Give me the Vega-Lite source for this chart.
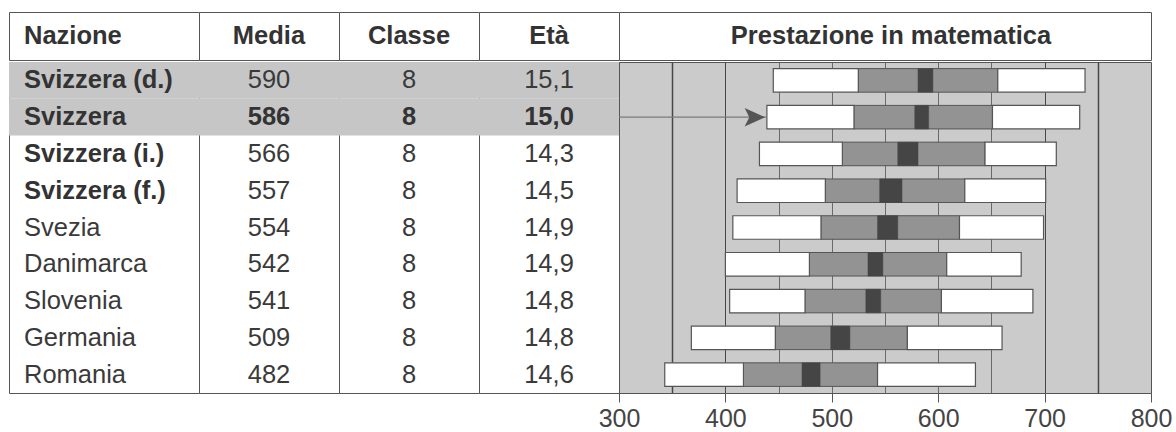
{
  "$schema": "https://vega.github.io/schema/vega-lite/v6.json",
  "background": "white",
  "padding": {"left": 8, "top": 11, "right": 5, "bottom": 5},
  "datasets": {
    "rows": [
      {"Nazione": "Svizzera (d.)", "Media": 590, "Classe": 8, "Eta": 15.1, "p5": 445, "p25": 525, "ciLo": 581, "ciHi": 595, "p75": 656, "p95": 738},
      {"Nazione": "Svizzera", "Media": 586, "Classe": 8, "Eta": 15.0, "p5": 439, "p25": 521, "ciLo": 578, "ciHi": 591, "p75": 651, "p95": 733},
      {"Nazione": "Svizzera (i.)", "Media": 566, "Classe": 8, "Eta": 14.3, "p5": 432, "p25": 510, "ciLo": 562, "ciHi": 581, "p75": 644, "p95": 711},
      {"Nazione": "Svizzera (f.)", "Media": 557, "Classe": 8, "Eta": 14.5, "p5": 411, "p25": 494, "ciLo": 545, "ciHi": 566, "p75": 625, "p95": 701},
      {"Nazione": "Svezia", "Media": 554, "Classe": 8, "Eta": 14.9, "p5": 407, "p25": 490, "ciLo": 543, "ciHi": 562, "p75": 620, "p95": 699},
      {"Nazione": "Danimarca", "Media": 542, "Classe": 8, "Eta": 14.9, "p5": 400, "p25": 479, "ciLo": 534, "ciHi": 548, "p75": 608, "p95": 678},
      {"Nazione": "Slovenia", "Media": 541, "Classe": 8, "Eta": 14.8, "p5": 404, "p25": 475, "ciLo": 532, "ciHi": 546, "p75": 603, "p95": 689},
      {"Nazione": "Germania", "Media": 509, "Classe": 8, "Eta": 14.8, "p5": 368, "p25": 447, "ciLo": 499, "ciHi": 517, "p75": 571, "p95": 660},
      {"Nazione": "Romania", "Media": 482, "Classe": 8, "Eta": 14.6, "p5": 343, "p25": 417, "ciLo": 472, "ciHi": 489, "p75": 543, "p95": 635}
    ]
  },
  "spacing": 0,
  "vconcat": [
    {
      "spacing": 0,
      "bounds": "flush",
      "hconcat": [
        {
          "width": 190, "height": 48,
          "data": {"values": [{"col": "Nazione"}]},
          "mark": {"type": "text", "align": "left", "baseline": "middle", "dx": 15, "fontSize": 25.5, "fontWeight": "bold", "color": "#333"},
          "encoding": {"x": {"value": 0}, "y": {"field": "col", "type": "nominal", "axis": null}, "text": {"field": "col", "type": "nominal"}}
        },
        {
          "width": 140, "height": 48,
          "data": {"values": [{"col": "Media"}]},
          "mark": {"type": "text", "align": "center", "baseline": "middle", "fontSize": 25.5, "fontWeight": "bold", "color": "#333"},
          "encoding": {"y": {"field": "col", "type": "nominal", "axis": null}, "text": {"field": "col", "type": "nominal"}}
        },
        {
          "width": 140, "height": 48,
          "data": {"values": [{"col": "Classe"}]},
          "mark": {"type": "text", "align": "center", "baseline": "middle", "fontSize": 25.5, "fontWeight": "bold", "color": "#333"},
          "encoding": {"y": {"field": "col", "type": "nominal", "axis": null}, "text": {"field": "col", "type": "nominal"}}
        },
        {
          "width": 140, "height": 48,
          "data": {"values": [{"col": "Età"}]},
          "mark": {"type": "text", "align": "center", "baseline": "middle", "fontSize": 25.5, "fontWeight": "bold", "color": "#333"},
          "encoding": {"y": {"field": "col", "type": "nominal", "axis": null}, "text": {"field": "col", "type": "nominal"}}
        },
        {
          "width": 532, "height": 48,
          "data": {"values": [{"col": "Prestazione in matematica"}]},
          "mark": {"type": "text", "align": "center", "baseline": "middle", "dx": 6, "fontSize": 25.5, "fontWeight": "bold", "color": "#333"},
          "encoding": {"y": {"field": "col", "type": "nominal", "axis": null}, "text": {"field": "col", "type": "nominal"}}
        }
      ]
    },
    {
      "spacing": 0,
      "bounds": "flush",
      "hconcat": [
        {
          "width": 190, "height": 331,
          "data": {"name": "rows"},
          "encoding": {"y": {"field": "Nazione", "type": "nominal", "sort": null, "axis": null, "scale": {"paddingInner": 0, "paddingOuter": 0}}},
          "layer": [
            {
              "transform": [{"filter": {"field": "Nazione", "oneOf": ["Svizzera (d.)", "Svizzera"]}}],
              "mark": {"type": "rect", "fill": "#c6c6c6"},
              "encoding": {"x": {"value": 0}, "x2": {"value": "width"}}
            },
            {
              "transform": [{"filter": {"field": "Nazione", "oneOf": ["Svizzera (d.)", "Svizzera", "Svizzera (i.)", "Svizzera (f.)"]}}],
              "mark": {"type": "text", "align": "left", "baseline": "middle", "dx": 15, "fontSize": 25.5, "fontWeight": "bold", "color": "#333"},
              "encoding": {"x": {"value": 0}, "text": {"field": "Nazione", "type": "nominal"}}
            },
            {
              "transform": [{"filter": {"not": {"field": "Nazione", "oneOf": ["Svizzera (d.)", "Svizzera", "Svizzera (i.)", "Svizzera (f.)"]}}}],
              "mark": {"type": "text", "align": "left", "baseline": "middle", "dx": 15, "fontSize": 25.5, "color": "#3a3a3a"},
              "encoding": {"x": {"value": 0}, "text": {"field": "Nazione", "type": "nominal"}}
            }
          ]
        },
        {
          "width": 140, "height": 331,
          "data": {"name": "rows"},
          "encoding": {"y": {"field": "Nazione", "type": "nominal", "sort": null, "axis": null, "scale": {"paddingInner": 0, "paddingOuter": 0}}},
          "layer": [
            {
              "transform": [{"filter": {"field": "Nazione", "oneOf": ["Svizzera (d.)", "Svizzera"]}}],
              "mark": {"type": "rect", "fill": "#c6c6c6"},
              "encoding": {"x": {"value": 0}, "x2": {"value": "width"}}
            },
            {
              "transform": [{"filter": {"not": {"field": "Nazione", "equal": "Svizzera"}}}],
              "mark": {"type": "text", "align": "center", "baseline": "middle", "fontSize": 25.5, "color": "#3a3a3a"},
              "encoding": {"text": {"field": "Media", "type": "quantitative", "format": "d"}}
            },
            {
              "transform": [{"filter": {"field": "Nazione", "equal": "Svizzera"}}],
              "mark": {"type": "text", "align": "center", "baseline": "middle", "fontSize": 25.5, "fontWeight": "bold", "color": "#333"},
              "encoding": {"text": {"field": "Media", "type": "quantitative", "format": "d"}}
            }
          ]
        },
        {
          "width": 140, "height": 331,
          "data": {"name": "rows"},
          "encoding": {"y": {"field": "Nazione", "type": "nominal", "sort": null, "axis": null, "scale": {"paddingInner": 0, "paddingOuter": 0}}},
          "layer": [
            {
              "transform": [{"filter": {"field": "Nazione", "oneOf": ["Svizzera (d.)", "Svizzera"]}}],
              "mark": {"type": "rect", "fill": "#c6c6c6"},
              "encoding": {"x": {"value": 0}, "x2": {"value": "width"}}
            },
            {
              "transform": [{"filter": {"not": {"field": "Nazione", "equal": "Svizzera"}}}],
              "mark": {"type": "text", "align": "center", "baseline": "middle", "fontSize": 25.5, "color": "#3a3a3a"},
              "encoding": {"text": {"field": "Classe", "type": "quantitative", "format": "d"}}
            },
            {
              "transform": [{"filter": {"field": "Nazione", "equal": "Svizzera"}}],
              "mark": {"type": "text", "align": "center", "baseline": "middle", "fontSize": 25.5, "fontWeight": "bold", "color": "#333"},
              "encoding": {"text": {"field": "Classe", "type": "quantitative", "format": "d"}}
            }
          ]
        },
        {
          "width": 140, "height": 331,
          "data": {"name": "rows"},
          "encoding": {"y": {"field": "Nazione", "type": "nominal", "sort": null, "axis": null, "scale": {"paddingInner": 0, "paddingOuter": 0}}},
          "layer": [
            {
              "transform": [{"filter": {"field": "Nazione", "oneOf": ["Svizzera (d.)", "Svizzera"]}}],
              "mark": {"type": "rect", "fill": "#c6c6c6"},
              "encoding": {"x": {"value": 0}, "x2": {"value": "width"}}
            },
            {
              "transform": [{"filter": {"not": {"field": "Nazione", "equal": "Svizzera"}}}],
              "mark": {"type": "text", "align": "center", "baseline": "middle", "fontSize": 25.5, "color": "#3a3a3a"},
              "encoding": {"text": {"field": "Eta", "type": "quantitative", "format": ".1f"}}
            },
            {
              "transform": [{"filter": {"field": "Nazione", "equal": "Svizzera"}}],
              "mark": {"type": "text", "align": "center", "baseline": "middle", "fontSize": 25.5, "fontWeight": "bold", "color": "#333"},
              "encoding": {"text": {"field": "Eta", "type": "quantitative", "format": ".1f"}}
            }
          ]
        },
        {
          "width": 532, "height": 331,
          "view": {"fill": "#cbcbcb", "stroke": "#555"},
          "data": {"name": "rows"},
          "encoding": {"y": {"field": "Nazione", "type": "nominal", "sort": null, "axis": null, "scale": {"paddingInner": 0.36, "paddingOuter": 0.18}}},
          "layer": [
            {
              "mark": {"type": "rect", "fill": "#ffffff", "stroke": "#555", "strokeWidth": 1.2},
              "encoding": {
                "x": {"field": "p5", "type": "quantitative",
                      "scale": {"domain": [300, 800], "nice": false, "zero": false},
                      "axis": {
                        "title": null,
                        "values": [300, 350, 400, 450, 500, 550, 600, 650, 700, 750, 800],
                        "grid": true,
                        "gridColor": {"condition": {"test": "datum.value === 350 || datum.value === 750 || datum.value === 400 || datum.value === 700", "value": "#474747"}, "value": "#6a6a6a"},
                        "gridWidth": {"condition": {"test": "datum.value === 350 || datum.value === 750", "value": 1.5}, "value": 1},
                        "gridOpacity": {"condition": {"test": "datum.value === 300 || datum.value === 800", "value": 0}, "value": 1},
                        "tickOpacity": {"condition": {"test": "datum.value % 100 !== 0", "value": 0}, "value": 1},
                        "labelExpr": "datum.value % 100 === 0 ? datum.label : ''",
                        "tickSize": 9, "tickColor": "#555", "domainColor": "#555",
                        "labelFontSize": 25, "labelColor": "#444",
                        "labelPadding": 4, "labelFlush": false, "labelOverlap": false
                      }},
                "x2": {"field": "p25"}
              }
            },
            {
              "mark": {"type": "rect", "fill": "#939393", "stroke": "#555", "strokeWidth": 1},
              "encoding": {"x": {"field": "p25", "type": "quantitative"}, "x2": {"field": "p75"}}
            },
            {
              "mark": {"type": "rect", "fill": "#454545", "stroke": "#444", "strokeWidth": 0.5},
              "encoding": {"x": {"field": "ciLo", "type": "quantitative"}, "x2": {"field": "ciHi"}}
            },
            {
              "mark": {"type": "rect", "fill": "#ffffff", "stroke": "#555", "strokeWidth": 1.2},
              "encoding": {"x": {"field": "p75", "type": "quantitative"}, "x2": {"field": "p95"}}
            },
            {
              "transform": [{"filter": {"field": "Nazione", "equal": "Svizzera"}}],
              "mark": {"type": "rule", "color": "#7a7a7a", "strokeWidth": 1.2},
              "encoding": {"x": {"field": "p5", "type": "quantitative"}, "x2": {"datum": 300}}
            },
            {
              "transform": [{"filter": {"field": "Nazione", "equal": "Svizzera"}}],
              "mark": {"type": "point", "shape": "M-1,-0.9L1,0L-1,0.9L-0.55,0Z", "filled": true, "color": "#555", "opacity": 1, "size": 420, "xOffset": -12},
              "encoding": {"x": {"field": "p5", "type": "quantitative"}}
            }
          ]
        }
      ]
    }
  ],
  "config": {
    "font": "Liberation Sans",
    "text": {"font": "Liberation Sans"},
    "axis": {"labelFont": "Liberation Sans"},
    "locale": {"number": {"decimal": ",", "thousands": ".", "grouping": [3], "currency": ["", " €"]}},
    "view": {"stroke": "#555", "strokeWidth": 1, "fill": "white"},
    "concat": {"spacing": 0}
  }
}
